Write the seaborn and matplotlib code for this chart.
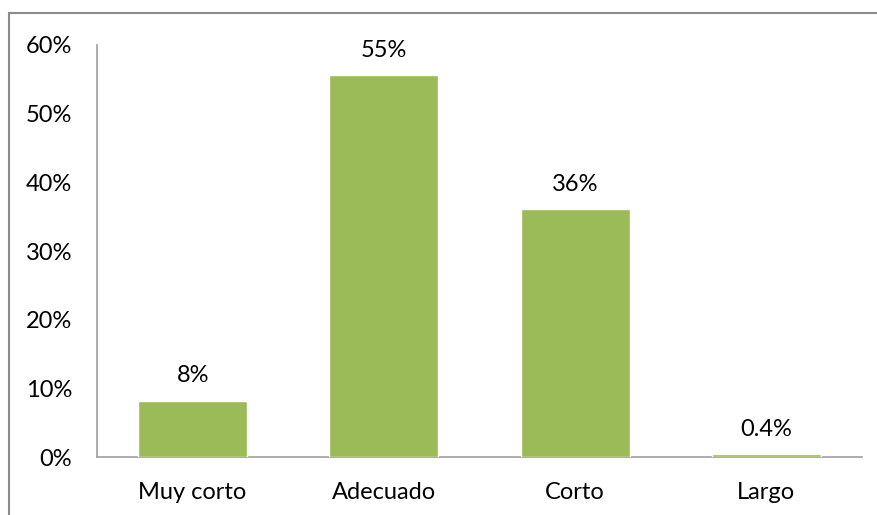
import matplotlib
matplotlib.use("Agg")
import matplotlib.pyplot as plt
import matplotlib.patches as mpatches
from matplotlib.ticker import PercentFormatter
import pandas as pd
import seaborn as sns

categories = ["Muy corto", "Adecuado", "Corto", "Largo"]
values = [0.082, 0.556, 0.361, 0.004]
value_labels = ["8%", "55%", "36%", "0.4%"]
yticks = [0.0, 0.1, 0.2, 0.3, 0.4, 0.5, 0.6]

BAR_COLOR = "#9BBB59"
AXIS_COLOR = "#A6A6A6"
FS = 17

sns.set_style("white")
plt.rcParams["font.family"] = ["Lato", "DejaVu Sans"]

df = pd.DataFrame({"cat": categories, "val": values})

fig = plt.figure(figsize=(8.77, 5.15), dpi=100)
ax = fig.add_axes([97 / 877, 58 / 515, 765 / 877, 412 / 515])

sns.barplot(data=df, x="cat", y="val", color=BAR_COLOR, width=0.57,
            saturation=1, ax=ax)
for p in ax.patches:
    p.set_zorder(3)

# data labels above bars
for i, (v, lab) in enumerate(zip(values, value_labels)):
    ax.annotate(lab, (i, v), xytext=(0, 10.5), textcoords="offset points",
                ha="center", va="bottom", fontsize=FS, color="#000000")

ax.set_ylim(0, 0.6)
ax.set_yticks(yticks)
ax.yaxis.set_major_formatter(PercentFormatter(1.0, decimals=0))
ax.set_xlim(-0.5, 3.5)
ax.set_xlabel("")
ax.set_ylabel("")
ax.tick_params(axis="both", length=0, labelsize=FS, colors="#000000")
ax.tick_params(axis="y", pad=18)
ax.tick_params(axis="x", pad=18)

for side in ["top", "right"]:
    ax.spines[side].set_visible(False)
for side in ["left", "bottom"]:
    ax.spines[side].set_color(AXIS_COLOR)
    ax.spines[side].set_linewidth(1.3)

# outer chart-area border
border = mpatches.Rectangle((9 / 877, -0.05), 1.0, (515 - 13) / 515 + 0.05,
                            transform=fig.transFigure, fill=False,
                            edgecolor="#8C8C8C", linewidth=1.5, clip_on=False)
fig.patches.append(border)

fig.savefig("out.png", dpi=100)
